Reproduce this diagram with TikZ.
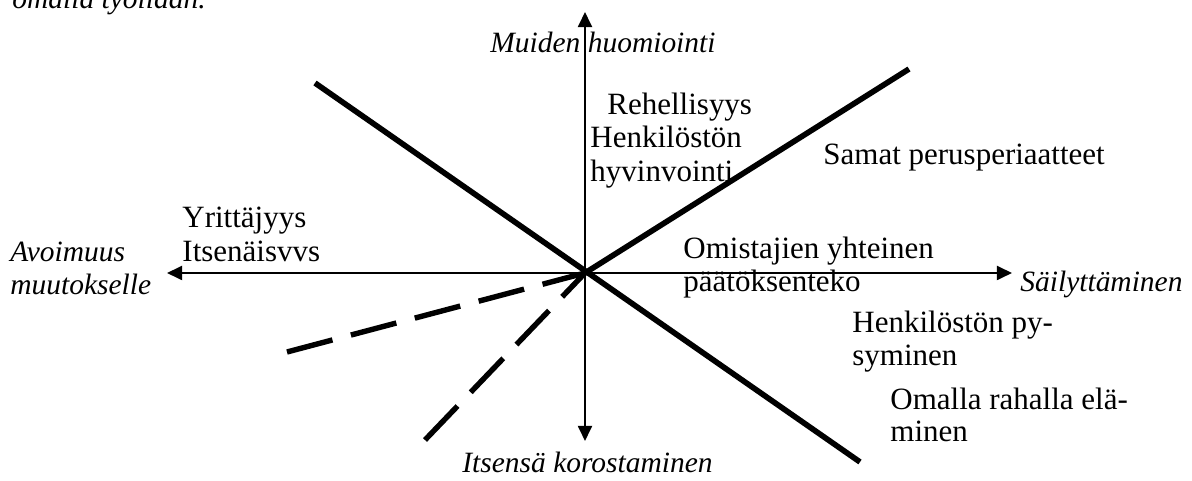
\documentclass[tikz,border=0pt]{standalone}
\IfFileExists{mathpazo.sty}{\IfFileExists{pplr8t.tfm}{%
  \usepackage[T1]{fontenc}\usepackage{mathpazo}\def\lblsize{\fontsize{12.9}{15.2}\selectfont}\def\italsize{\fontsize{12.9}{15.2}\selectfont}}{%
  \usepackage{fontspec}\setmainfont{Liberation Serif}\def\lblsize{\fontsize{14.3}{15.2}\selectfont}\def\italsize{\fontsize{13.6}{15.2}\selectfont}}}{%
  \usepackage{fontspec}\setmainfont{Liberation Serif}\def\lblsize{\fontsize{14.3}{15.2}\selectfont}\def\italsize{\fontsize{13.6}{15.2}\selectfont}}
\usetikzlibrary{arrows.meta}
\begin{document}
\begin{tikzpicture}[x=0.4615pt,y=-0.4615pt,
  lbl/.style={inner sep=0pt, anchor=base west, font=\lblsize},
  ital/.style={inner sep=0pt, anchor=base west, font=\italsize\itshape},
  axis/.style={line width=0.95pt, {Triangle[width=6.5pt,length=7pt]}-{Triangle[width=6.5pt,length=7pt]}},
  boldline/.style={line width=2.6pt},
  dashline/.style={line width=2.5pt, dash pattern=on 21.7pt off 8.8pt}]
\useasboundingbox (0,0) rectangle (1192,481);
\clip (0,0) rectangle (1192,481);
% coordinates
\coordinate (c) at (585,273);
\coordinate (t) at (585,12);
\coordinate (b) at (585,441);
\coordinate (l) at (167,273);
\coordinate (r) at (1012,273);
\coordinate (nw) at (315,83);
\coordinate (se) at (860,462);
\coordinate (ne) at (909,69);
\coordinate (d1) at (287,352);
\coordinate (d2) at (425,440);
% axes
\draw[axis] (b) -- (t);
\draw[axis] (l) -- (r);
% bold lines
\draw[boldline] (nw) -- (se);
\draw[boldline] (c) -- (ne);
\draw[dashline] (d1) -- (c);
\draw[dashline] (d2) -- (c);
% texts
\node[ital] (top) at (12,9) {omalla työllään.};
\node[ital] (muiden) at (490,53) {Muiden huomiointi};
\node[lbl] (rehel) at (607,115) {Rehellisyys};
\node[lbl] (henk1) at (590,148) {Henkilöstön};
\node[lbl] (hyvin) at (590,182) {hyvinvointi};
\node[lbl] (samat) at (823,165) {Samat perusperiaatteet};
\node[lbl] (yritt) at (182,228) {Yrittäjyys};
\node[lbl] (itsen) at (182,262) {Itsenäisvvs};
\node[ital] (avoim) at (10,262) {Avoimuus};
\node[ital] (muut) at (10,295) {muutokselle};
\node[lbl] (omist) at (683,259) {Omistajien yhteinen};
\node[lbl] (paat) at (683,292) {päätöksenteko};
\node[ital] (sailyt) at (1020,292) {Säilyttäminen};
\node[lbl] (henk2) at (852,333) {Henkilöstön py-};
\node[lbl] (sym) at (852,366) {syminen};
\node[lbl] (omalla) at (890,410) {Omalla rahalla elä-};
\node[lbl] (minen) at (890,442) {minen};
\node[ital] (itsensa) at (462,473) {Itsensä korostaminen};
\end{tikzpicture}
\end{document}
